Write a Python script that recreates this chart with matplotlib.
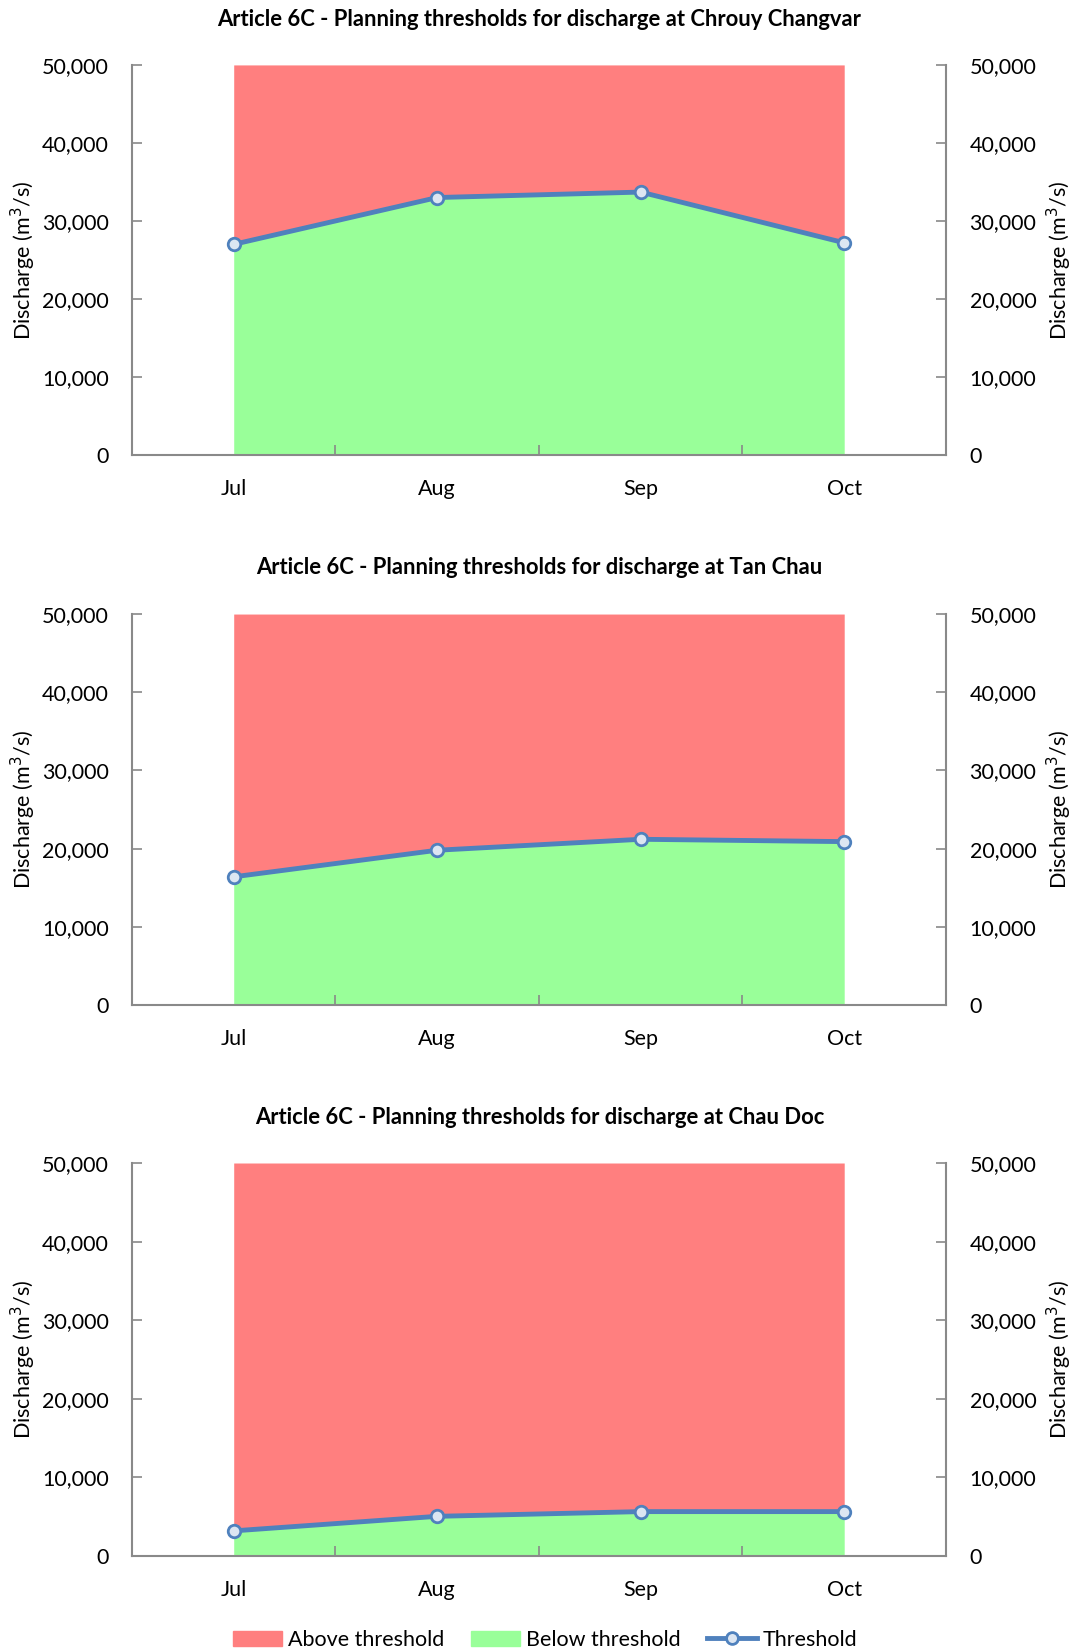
import numpy as np
import matplotlib.pyplot as plt
from matplotlib.patches import Patch
from matplotlib.lines import Line2D
from matplotlib.ticker import FuncFormatter

plt.rcParams['font.family'] = ['Lato', 'DejaVu Sans']

months = ['Jul', 'Aug', 'Sep', 'Oct']
stations = ['Chrouy Changvar', 'Tan Chau', 'Chau Doc']
# threshold discharge (m3/s) per month
thr_chrouy = [27000, 33000, 33700, 27200]
thr_tanchau = [16400, 19800, 21200, 20900]
thr_chaudoc = [3200, 5050, 5650, 5650]
ymax = 50000

RED = '#FF7F7F'
GREEN = '#99FF99'
BLUE = '#4F81BD'
GREY = '#898989'
FS = 15.5

fig = plt.figure(figsize=(10.79, 16.52), dpi=100)

# axes boxes in figure fractions: left, bottom, width, height
boxes = [(0.1223, 0.7246, 0.7544, 0.2361),
         (0.1223, 0.3916, 0.7544, 0.2367),
         (0.1223, 0.0581, 0.7544, 0.2379)]
title_y = [1 - 19 / 1652, 1 - 568 / 1652, 1 - 1117 / 1652]

fmt = FuncFormatter(lambda v, p: '{:,.0f}'.format(v))

for box, ty, name, thr in zip(boxes, title_y, stations,
                              [thr_chrouy, thr_tanchau, thr_chaudoc]):
    ax = fig.add_axes(box)
    x = np.arange(len(months))
    thr = np.array(thr)
    ax.fill_between(x, 0, thr, color=GREEN, lw=0)
    ax.fill_between(x, thr, ymax, color=RED, lw=0)
    ax.plot(x, thr, color=BLUE, lw=3.5, marker='o', ms=9,
            mfc='#DCE6F2', mec=BLUE, mew=2, zorder=5, clip_on=False)

    ax.set_xlim(-0.5, len(months) - 0.5)
    ax.set_ylim(0, ymax)
    ax.set_yticks(np.arange(0, ymax + 1, 10000))
    ax.yaxis.set_major_formatter(fmt)
    ax.set_xticks(x)
    ax.set_xticklabels(months, fontsize=FS)
    ax.set_xticks(np.arange(0.5, len(months) - 1, 1), minor=True)
    ax.tick_params(axis='x', which='major', length=0, pad=17)
    ax.tick_params(axis='x', which='minor', direction='in', length=7,
                   color=GREY, width=1.2)
    ax.tick_params(axis='y', direction='in', length=7, color=GREY,
                   width=1.2, labelsize=FS, pad=16.5)

    ax.spines['top'].set_visible(False)
    ax.spines['right'].set_visible(False)
    for s in ['left', 'bottom']:
        ax.spines[s].set_color(GREY)
        ax.spines[s].set_linewidth(1.5)
    ax.set_ylabel('Discharge (m$^3$/s)', fontsize=FS, labelpad=3)

    ax2 = ax.twinx()
    ax2.set_position(box)
    ax2.set_ylim(0, ymax)
    ax2.set_yticks(np.arange(0, ymax + 1, 10000))
    ax2.yaxis.set_major_formatter(fmt)
    ax2.tick_params(axis='y', direction='in', length=7, color=GREY,
                    width=1.2, labelsize=FS, pad=17)
    for s in ['top', 'left', 'bottom']:
        ax2.spines[s].set_visible(False)
    ax2.spines['right'].set_color(GREY)
    ax2.spines['right'].set_linewidth(1.5)
    ax2.set_ylabel('Discharge (m$^3$/s)', fontsize=FS, labelpad=6)

    fig.text(0.5, ty, 'Article 6C - Planning thresholds for discharge at ' + name,
             ha='center', va='center', fontsize=15.8, fontweight='bold')

handles = [Patch(color=RED, label='Above threshold'),
           Patch(color=GREEN, label='Below threshold'),
           Line2D([0], [0], color=BLUE, lw=3.5, marker='o', ms=8.5, mfc='#DCE6F2',
                  mec=BLUE, mew=2, label='Threshold')]
fig.legend(handles=handles, loc='center', bbox_to_anchor=(0.505, 1 - 1640 / 1652),
           ncol=3, frameon=False, fontsize=FS, handlelength=2.3,
           handleheight=0.7, handletextpad=0.25, columnspacing=1.25,
           borderpad=0)

fig.savefig('out.png', dpi=100)
